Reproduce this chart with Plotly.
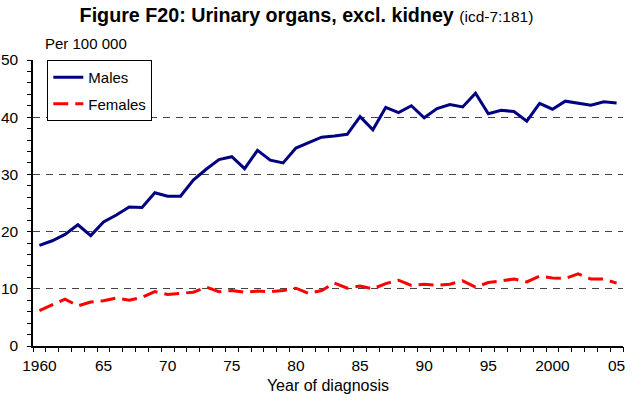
import plotly.graph_objects as go

years = list(range(1960, 2006))
males = [17.6, 18.4, 19.5, 21.2, 19.3, 21.7, 22.9, 24.3, 24.2, 26.8,
         26.2, 26.2, 29.0, 30.9, 32.6, 33.1, 31.0, 34.2, 32.5, 32.0,
         34.6, 35.6, 36.5, 36.7, 37.0, 40.1, 37.8, 41.7, 40.8, 42.0,
         39.9, 41.5, 42.2, 41.8, 44.2, 40.6, 41.2, 41.0, 39.3, 42.4,
         41.4, 42.8, 42.4, 42.1, 42.7, 42.5]
females = [6.2, 7.2, 8.2, 7.0, 7.7, 7.9, 8.4, 8.0, 8.5, 9.5,
           9.0, 9.2, 9.4, 10.3, 9.5, 9.7, 9.4, 9.6, 9.5, 9.7,
           10.1, 9.2, 9.7, 11.0, 10.1, 10.5, 10.0, 10.9, 11.5, 10.6,
           10.8, 10.6, 10.8, 11.4, 10.3, 11.1, 11.4, 11.7, 11.2, 12.2,
           11.9, 11.8, 12.6, 11.7, 11.7, 11.0]
x_tickvals = [1960, 1965, 1970, 1975, 1980, 1985, 1990, 1995, 2000, 2005]
x_ticktext = ["1960", "65", "70", "75", "80", "85", "90", "95", "2000", "05"]
y_tickvals = [0, 10, 20, 30, 40, 50]
year_bounds = [y - 0.5 for y in years] + [years[-1] + 0.5]

FONT = "Liberation Sans, Arial, sans-serif"

fig = go.Figure()
fig.add_trace(go.Scatter(x=years, y=males, mode="lines", name="Males",
                         legendgroup="m",
                         line=dict(color="#000080", width=3)))
fig.add_trace(go.Scatter(x=years, y=females, mode="lines", name="Females",
                         legendgroup="f", xaxis="x2",
                         line=dict(color="#ff0000", width=3, dash="15px,7px")))

W, H = 643, 401
PL, PR, PT, PB = 32.7, 622.7, 59.5, 346
PW, PH = PR - PL, PB - PT

fig.update_layout(
    width=W, height=H,
    margin=dict(l=PL, r=W - PR, t=PT, b=H - PB, autoexpand=False),
    paper_bgcolor="white", plot_bgcolor="white",
    font=dict(family=FONT, color="black", size=15),
    title=dict(
        text="<b>Figure F20: Urinary organs, excl. kidney</b> <span style='font-size:15.5px'>(icd-7:181)</span>",
        font=dict(size=19.7, family=FONT, color="black"),
        x=306.5 / W, xanchor="center", xref="container",
        y=1 - 15 / H, yanchor="middle", yref="container"),
    showlegend=True,
    legend=dict(x=(47 - PL) / PW, y=1.0, xanchor="left", yanchor="top",
                bgcolor="white", bordercolor="black", borderwidth=1,
                font=dict(size=15, family=FONT), tracegroupgap=4,
                entrywidth=80, itemwidth=30),
    xaxis=dict(range=[1959.5, 2005.5], tickmode="array", tickvals=x_tickvals,
               ticktext=x_ticktext, ticks="", showgrid=False, zeroline=False,
               showline=True, linecolor="black", linewidth=1.5,
               tickfont=dict(size=15.5), ticklabelstandoff=5, automargin=False,
               title=dict(text="Year of diagnosis", font=dict(size=16), standoff=6)),
    xaxis2=dict(range=[1959.5, 2005.5], matches="x", overlaying="x", anchor="y",
                side="bottom", tickmode="array", tickvals=year_bounds,
                showticklabels=False, ticks="outside", ticklen=5,
                tickcolor="black", tickwidth=1, showgrid=False, zeroline=False,
                showline=False, automargin=False),
    yaxis=dict(range=[0, 50], tickmode="array", tickvals=y_tickvals,
               ticks="outside", ticklen=4, tickcolor="black", tickwidth=1,
               showgrid=True, gridcolor="#444", griddash="7px,6px", gridwidth=1.2,
               zeroline=False, showline=True, linecolor="black", linewidth=1.5,
               tickfont=dict(size=15.5), ticklabelstandoff=6, automargin=False,
               minor=dict(tickmode="linear", tick0=0, dtick=2, ticks="outside",
                          ticklen=4, tickcolor="black", tickwidth=1, showgrid=False)),
    annotations=[dict(text="Per 100 000", xref="paper", yref="paper",
                      x=(42.7 - PL) / PW, y=(PB - 43) / PH,
                      xanchor="left", yanchor="middle", showarrow=False,
                      font=dict(size=15, family=FONT))],
)

fig.write_html("out.html", config={"displayModeBar": False},
               post_script="document.body.style.margin='0';document.body.style.overflow='hidden';")
